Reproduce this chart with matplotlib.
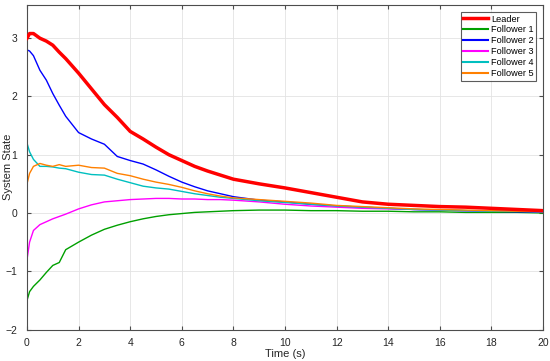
import matplotlib
matplotlib.use("Agg")
import matplotlib.pyplot as plt

t = [0, 0.1, 0.25, 0.5, 0.75, 1.0, 1.25, 1.5, 2.0, 2.5, 3.0, 3.5, 4.0, 4.5, 5.0, 5.5,
     6.0, 6.5, 7.0, 7.5, 8.0, 9, 10, 11, 12, 13, 14, 15, 16, 17, 18, 19, 20]

leader = [3.00, 3.08, 3.08, 3.00, 2.95, 2.88, 2.76, 2.65, 2.40, 2.13, 1.86, 1.64, 1.40, 1.27,
          1.13, 1.00, 0.90, 0.80, 0.72, 0.65, 0.58, 0.50, 0.43, 0.35, 0.27, 0.19, 0.15, 0.13,
          0.11, 0.10, 0.08, 0.06, 0.04]
follower1 = [-1.50, -1.35, -1.26, -1.15, -1.02, -0.90, -0.85, -0.63, -0.50, -0.38, -0.28, -0.21,
             -0.15, -0.10, -0.06, -0.03, -0.01, 0.01, 0.02, 0.03, 0.04, 0.05, 0.05, 0.04, 0.04,
             0.03, 0.03, 0.02, 0.02, 0.01, 0.01, 0.01, 0.00]
follower2 = [2.80, 2.78, 2.70, 2.45, 2.28, 2.05, 1.85, 1.66, 1.38, 1.27, 1.18, 0.97, 0.90, 0.84,
             0.74, 0.63, 0.53, 0.45, 0.38, 0.33, 0.28, 0.22, 0.19, 0.15, 0.12, 0.10, 0.08, 0.06,
             0.05, 0.04, 0.03, 0.02, 0.02]
follower3 = [-0.80, -0.50, -0.30, -0.20, -0.15, -0.10, -0.06, -0.02, 0.07, 0.14, 0.19, 0.21, 0.23,
             0.24, 0.25, 0.25, 0.24, 0.24, 0.23, 0.23, 0.22, 0.19, 0.15, 0.12, 0.10, 0.08, 0.07,
             0.06, 0.05, 0.04, 0.03, 0.03, 0.02]
follower4 = [1.20, 1.05, 0.92, 0.80, 0.80, 0.79, 0.77, 0.76, 0.70, 0.66, 0.65, 0.58, 0.52, 0.46,
             0.43, 0.41, 0.37, 0.33, 0.30, 0.27, 0.25, 0.21, 0.18, 0.15, 0.12, 0.10, 0.08, 0.06,
             0.05, 0.04, 0.03, 0.03, 0.02]
follower5 = [0.50, 0.68, 0.80, 0.85, 0.82, 0.80, 0.83, 0.80, 0.82, 0.78, 0.77, 0.68, 0.64, 0.58,
             0.53, 0.49, 0.44, 0.38, 0.33, 0.29, 0.26, 0.23, 0.20, 0.17, 0.13, 0.11, 0.09, 0.07,
             0.06, 0.05, 0.04, 0.03, 0.03]

names = ["Leader", "Follower 1", "Follower 2", "Follower 3", "Follower 4", "Follower 5"]
series = [leader, follower1, follower2, follower3, follower4, follower5]
colors = ["#ff0000", "#00a000", "#0000ff", "#ff00ff", "#00bfbf", "#ff8000"]
widths = [2.5, 1.0, 1.0, 1.0, 1.0, 1.0]

plt.rcParams['font.family'] = ['Liberation Sans', 'DejaVu Sans']

fig = plt.figure(figsize=(5.5, 3.61), dpi=100)
ax = fig.add_axes([27/550, 1 - 329.5/361, (543-27)/550, (329.5-5)/361])

for name, y, c, w in zip(names, series, colors, widths):
    ax.plot(t, y, color=c, lw=w, label=name, zorder=3 if name == "Leader" else 2)

ax.set_xlim(0, 20)
ax.set_ylim(-2, 3.57)
ax.set_xticks(range(0, 21, 2))
ax.set_yticks([-2, -1, 0, 1, 2, 3])
ax.grid(True, color="#e3e3e3", lw=0.6)
ax.set_axisbelow(True)
for s in ax.spines.values():
    s.set_color("#4d4d4d")
    s.set_linewidth(0.8)
ax.tick_params(direction="in", top=True, right=True, length=3, width=0.8,
               colors="#4d4d4d", labelcolor="#262626", labelsize=7.5)
ax.tick_params(axis="x", pad=6)
ax.tick_params(axis="y", pad=7)
ax.set_xlabel("Time (s)", fontsize=8, color="#262626", labelpad=1)
ax.set_ylabel("System State", fontsize=8, color="#262626")
ax.yaxis.set_label_coords(-0.028, 0.5)

leg = ax.legend(loc="upper right", fontsize=6.6, frameon=True, fancybox=False,
                borderpad=0.3, labelspacing=0.2, handlelength=2.7, handletextpad=0.3,
                borderaxespad=0.75)
leg.get_frame().set_edgecolor("#333333")
leg.get_frame().set_linewidth(0.8)
for ln in leg.get_lines()[1:]:
    ln.set_linewidth(1.5)

fig.savefig("out.png", dpi=100)
